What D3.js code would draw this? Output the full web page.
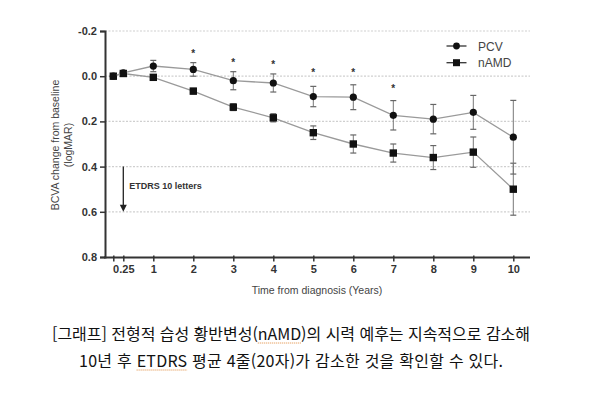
<!DOCTYPE html>
<html lang="ko">
<head>
<meta charset="utf-8">
<title>BCVA change</title>
<script src="https://cdn.jsdelivr.net/npm/d3@7"></script>
<style>
  body { margin: 0; background: #fff; }
  svg text { font-family: "Liberation Sans", Arial, sans-serif; }
  .tick text { font-weight: bold; fill: #333; }
</style>
</head>
<body>
<div id="chart"></div>
<script>

// data
var times = [0, 0.25, 1, 2, 3, 4, 5, 6, 7, 8, 9, 10];
var xTickVals = [0, 0.25, 1, 2, 3, 4, 5, 6, 7, 8, 9, 10];
var xTickLabels = ["", "0.25", "1", "2", "3", "4", "5", "6", "7", "8", "9", "10"];
var yTickVals = [-0.2, 0.0, 0.2, 0.4, 0.6, 0.8];
var yTickLabels = ["-0.2", "0.0", "0.2", "0.4", "0.6", "0.8"];

var pcvMean = [0, -0.015, -0.045, -0.03, 0.02, 0.03, 0.09, 0.093, 0.173, 0.19, 0.16, 0.27];
var pcvErr  = [0, 0.008, 0.025, 0.03, 0.04, 0.04, 0.045, 0.055, 0.065, 0.065, 0.075, 0.163];
var namdMean = [0, -0.012, 0.005, 0.066, 0.137, 0.184, 0.25, 0.30, 0.34, 0.36, 0.336, 0.50];
var namdErr  = [0, 0.008, 0.01, 0.012, 0.015, 0.018, 0.03, 0.04, 0.04, 0.053, 0.067, 0.115];

var sigTimes = [2, 3, 4, 5, 6, 7];
var sigY = [-0.103, -0.063, -0.056, -0.019, -0.019, 0.052];

var arrowFrom = 0.4, arrowTo = 0.6, arrowX = 0.25;

var caption1 = "[그래프] 전형적 습성 황반변성(nAMD)의 시력 예후는 지속적으로 감소해";
var caption2 = "10년 후 ETDRS 평균 4줄(20자)가 감소한 것을 확인할 수 있다.";

var w = 590, h = 396;

var svg = d3.select("#chart").append("svg")
    .attr("width", w)
    .attr("height", h);

var x = d3.scaleLinear().domain([0, 10]).range([113.3, 513.3]);
var y = d3.scaleLinear().domain([-0.2, 0.8]).range([31, 257]);
var axisX = 105;

//grid lines
svg.selectAll("line.grid")
    .data(yTickVals.slice(0, 5))
    .enter().append("line")
    .attr("class", "grid")
    .attr("x1", axisX).attr("x2", 530)
    .attr("y1", d => y(d)).attr("y2", d => y(d))
    .attr("stroke", "#cfcfcf")
    .attr("stroke-width", 1.2)
    .attr("stroke-dasharray", "2,1.5");

//y axis
var yAxis = d3.axisLeft(y).tickValues(yTickVals)
    .tickFormat((d, i) => yTickLabels[i]).tickSize(5).tickPadding(3);
var gy = svg.append("g").attr("transform", "translate(" + axisX + ",0)").call(yAxis);
gy.select(".domain").attr("stroke", "#333").attr("stroke-width", 2);
gy.selectAll(".tick line").attr("stroke", "#333").attr("stroke-width", 1.5);
gy.selectAll(".tick text").attr("font-size", 11);

//x axis
var xAxis = d3.axisBottom(x).tickValues(xTickVals)
    .tickFormat((d, i) => xTickLabels[i]).tickSizeInner(4).tickSizeOuter(0).tickPadding(4);
var gx = svg.append("g").attr("transform", "translate(0," + 257.5 + ")").call(xAxis);
gx.select(".domain").attr("d", "M" + (axisX - 1) + ",0H530").attr("stroke", "#333").attr("stroke-width", 2);
gx.selectAll(".tick line").attr("stroke", "#333").attr("stroke-width", 1.5).attr("y1", -2);
gx.selectAll(".tick text").attr("font-size", 11);

//axis titles
svg.append("text")
    .attr("x", 317).attr("y", 294)
    .attr("text-anchor", "middle")
    .attr("font-size", 10.5)
    .attr("fill", "#444")
    .text("Time from diagnosis (Years)");

var ylab = svg.append("g").attr("transform", "translate(59,145) rotate(-90)");
ylab.append("text").attr("text-anchor", "middle").attr("y", 0)
    .attr("font-size", 10.5).attr("fill", "#444").text("BCVA change from baseline");
ylab.append("text").attr("text-anchor", "middle").attr("y", 12.5)
    .attr("font-size", 10.5).attr("fill", "#444").text("(logMAR)");

//series
function drawSeries(mean, err, shape) {
  var pts = times.map((t, i) => ({t: t, m: mean[i], e: err[i]}));
  var line = d3.line().x(d => x(d.t)).y(d => y(d.m));
  svg.append("path").datum(pts)
      .attr("d", line)
      .attr("fill", "none")
      .attr("stroke", "#9a9a9a")
      .attr("stroke-width", 1.3);

  var eb = svg.append("g").selectAll("g").data(pts.filter(d => d.e > 0.01)).enter().append("g");
  eb.append("line")
      .attr("x1", d => x(d.t)).attr("x2", d => x(d.t))
      .attr("y1", d => y(d.m - d.e)).attr("y2", d => y(d.m + d.e))
      .attr("stroke", "#777").attr("stroke-width", 1);
  [-1, 1].forEach(function(s) {
    eb.append("line")
        .attr("x1", d => x(d.t) - 3).attr("x2", d => x(d.t) + 3)
        .attr("y1", d => y(d.m + s * d.e)).attr("y2", d => y(d.m + s * d.e))
        .attr("stroke", "#666").attr("stroke-width", 1.2);
  });

  if (shape == "circle") {
    svg.append("g").selectAll("circle").data(pts).enter().append("circle")
        .attr("cx", d => x(d.t)).attr("cy", d => y(d.m)).attr("r", 3.6)
        .attr("fill", "#111");
  } else {
    svg.append("g").selectAll("rect").data(pts).enter().append("rect")
        .attr("x", d => x(d.t) - 3.7).attr("y", d => y(d.m) - 3.7)
        .attr("width", 7.4).attr("height", 7.4)
        .attr("fill", "#111");
  }
}
drawSeries(namdMean, namdErr, "square");
drawSeries(pcvMean, pcvErr, "circle");

//significance asterisks
svg.selectAll("text.sig")
    .data(sigTimes)
    .enter().append("text")
    .attr("class", "sig")
    .attr("x", d => x(d))
    .attr("y", (d, i) => y(sigY[i]) + 4.5)
    .attr("text-anchor", "middle")
    .attr("font-size", 10)
    .attr("font-weight", "bold")
    .attr("fill", "#333")
    .text("*");

//ETDRS arrow
svg.append("line")
    .attr("x1", x(arrowX)).attr("x2", x(arrowX))
    .attr("y1", y(arrowFrom)).attr("y2", y(arrowTo) - 5)
    .attr("stroke", "#222").attr("stroke-width", 1.3);
svg.append("path")
    .attr("d", "M" + (x(arrowX) - 3.5) + "," + (y(arrowTo) - 7) + "L" + (x(arrowX) + 3.5) + "," + (y(arrowTo) - 7) + "L" + x(arrowX) + "," + y(arrowTo) + "Z")
    .attr("fill", "#222");
svg.append("text")
    .attr("x", x(arrowX) + 6).attr("y", 189)
    .attr("font-size", 9)
    .attr("font-weight", "bold")
    .attr("fill", "#333")
    .text("ETDRS 10 letters");

//legend
var legend = [{name: "PCV", shape: "circle", y: 46}, {name: "nAMD", shape: "square", y: 62.7}];
var lg = svg.selectAll("g.legend").data(legend).enter().append("g").attr("class", "legend");
lg.append("line")
    .attr("x1", 446.5).attr("x2", 466.5)
    .attr("y1", d => d.y).attr("y2", d => d.y)
    .attr("stroke", "#333").attr("stroke-width", 1.3);
lg.filter(d => d.shape == "circle").append("circle")
    .attr("cx", 456.5).attr("cy", d => d.y).attr("r", 3.4).attr("fill", "#111");
lg.filter(d => d.shape == "square").append("rect")
    .attr("x", 453).attr("y", d => d.y - 3.5).attr("width", 7).attr("height", 7).attr("fill", "#111");
lg.append("text")
    .attr("x", 478).attr("y", d => d.y + 4.5)
    .attr("font-size", 12)
    .attr("fill", "#444")
    .text(d => d.name);

//caption
function caption(txt, cy, len, marks) {
  var t = svg.append("text")
      .attr("x", 291).attr("y", cy)
      .attr("text-anchor", "middle")
      .attr("font-size", 16)
      .attr("textLength", len)
      .attr("lengthAdjust", "spacing")
      .style("font-family", "'Noto Sans CJK KR', sans-serif")
      .attr("fill", "#111")
      .text(txt);
  marks.forEach(function(m) {
    var s = txt.indexOf(m);
    var node = t.node();
    var x0 = node.getStartPositionOfChar(s).x;
    var x1 = node.getEndPositionOfChar(s + m.length - 1).x;
    svg.append("line")
        .attr("x1", x0).attr("x2", x1)
        .attr("y1", cy + 3).attr("y2", cy + 3)
        .attr("stroke", "#e0893a")
        .attr("stroke-width", 1)
        .attr("stroke-dasharray", "1,1");
  });
}
caption(caption1, 340, 478, ["nAMD"]);
caption(caption2, 367, 424, ["ETDRS"]);

</script>
</body>
</html>
